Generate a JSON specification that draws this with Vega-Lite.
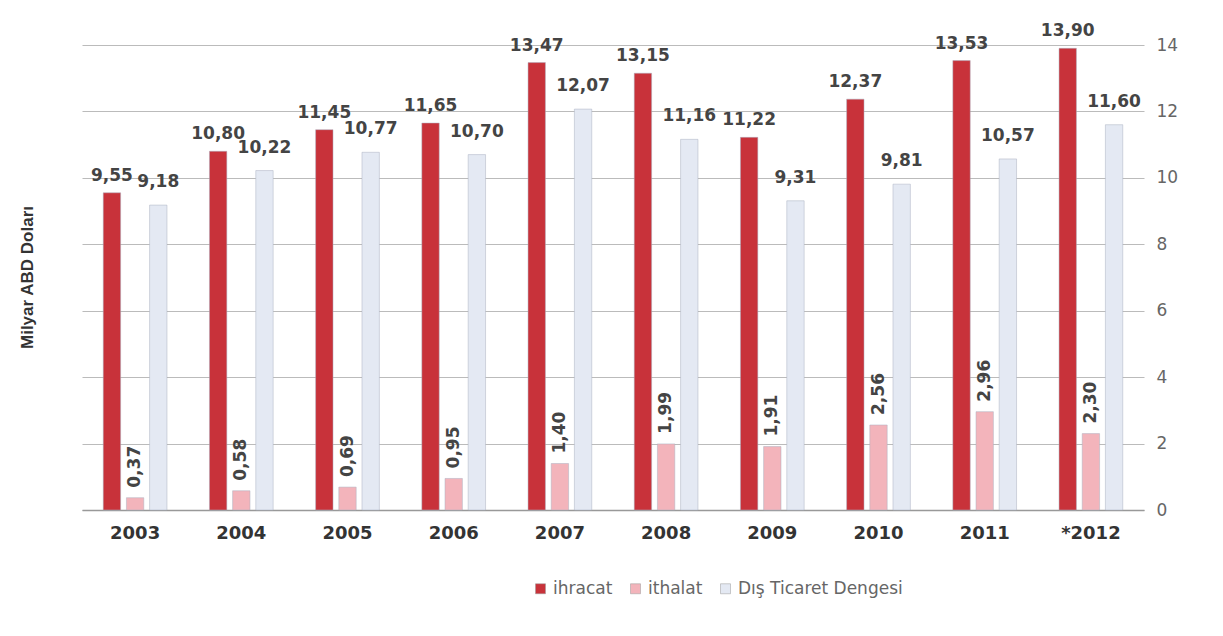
{
  "$schema": "https://vega.github.io/schema/vega-lite/v6.json",
  "width": 1062,
  "height": 465,
  "autosize": {"type": "none"},
  "padding": {"left": 82, "top": 45, "right": 79, "bottom": 126},
  "background": "white",
  "config": {
    "locale": {"number": {"decimal": ",", "thousands": ".", "grouping": [3], "currency": ["", ""]}},
    "view": {"stroke": null},
    "font": "DejaVu Sans"
  },
  "data": {
    "values": [
      {"year": "2003", "series": "ihracat", "value": 9.55},
      {"year": "2003", "series": "ithalat", "value": 0.37},
      {"year": "2003", "series": "Dış Ticaret Dengesi", "value": 9.18},
      {"year": "2004", "series": "ihracat", "value": 10.80},
      {"year": "2004", "series": "ithalat", "value": 0.58},
      {"year": "2004", "series": "Dış Ticaret Dengesi", "value": 10.22},
      {"year": "2005", "series": "ihracat", "value": 11.45},
      {"year": "2005", "series": "ithalat", "value": 0.69},
      {"year": "2005", "series": "Dış Ticaret Dengesi", "value": 10.77},
      {"year": "2006", "series": "ihracat", "value": 11.65},
      {"year": "2006", "series": "ithalat", "value": 0.95},
      {"year": "2006", "series": "Dış Ticaret Dengesi", "value": 10.70},
      {"year": "2007", "series": "ihracat", "value": 13.47},
      {"year": "2007", "series": "ithalat", "value": 1.40},
      {"year": "2007", "series": "Dış Ticaret Dengesi", "value": 12.07},
      {"year": "2008", "series": "ihracat", "value": 13.15},
      {"year": "2008", "series": "ithalat", "value": 1.99},
      {"year": "2008", "series": "Dış Ticaret Dengesi", "value": 11.16},
      {"year": "2009", "series": "ihracat", "value": 11.22},
      {"year": "2009", "series": "ithalat", "value": 1.91},
      {"year": "2009", "series": "Dış Ticaret Dengesi", "value": 9.31},
      {"year": "2010", "series": "ihracat", "value": 12.37},
      {"year": "2010", "series": "ithalat", "value": 2.56},
      {"year": "2010", "series": "Dış Ticaret Dengesi", "value": 9.81},
      {"year": "2011", "series": "ihracat", "value": 13.53},
      {"year": "2011", "series": "ithalat", "value": 2.96},
      {"year": "2011", "series": "Dış Ticaret Dengesi", "value": 10.57},
      {"year": "*2012", "series": "ihracat", "value": 13.90},
      {"year": "*2012", "series": "ithalat", "value": 2.30},
      {"year": "*2012", "series": "Dış Ticaret Dengesi", "value": 11.60}
    ]
  },
  "encoding": {
    "x": {
      "field": "year", "type": "nominal", "sort": null,
      "scale": {"paddingInner": 0.4, "paddingOuter": 0.2},
      "axis": {"title": null, "labelAngle": 0, "labelFontSize": 18, "labelColor": "#333", "labelFontWeight": "bold",
               "labelFont": "DejaVu Sans", "ticks": false, "labelPadding": 14, "domainColor": "#999", "domainWidth": 1.5}
    },
    "xOffset": {
      "field": "series", "type": "nominal",
      "sort": ["ihracat", "ithalat", "Dış Ticaret Dengesi"],
      "scale": {"paddingInner": 0.25}
    },
    "y": {
      "field": "value", "type": "quantitative",
      "scale": {"domain": [0, 14], "nice": false},
      "axis": {"orient": "right", "values": [0, 2, 4, 6, 8, 10, 12, 14], "format": "d", "title": "Milyar ABD Doları",
               "titleX": -1108, "titleY": 232, "titleAngle": -90, "titleFontSize": 17, "titleFont": "Liberation Sans", "titleColor": "#333",
               "titleFontWeight": "bold", "labelFontSize": 17, "labelColor": "#666", "labelPadding": 12,
               "ticks": false, "domain": false, "gridColor": "#bbb", "gridWidth": 1}
    }
  },
  "layer": [
    {
      "mark": {"type": "bar", "stroke": "#aab0c0", "strokeWidth": 0.5},
      "encoding": {
        "color": {
          "field": "series", "type": "nominal",
          "scale": {"domain": ["ihracat", "ithalat", "Dış Ticaret Dengesi"], "range": ["#c8323a", "#f3b4bb", "#e4e9f3"]},
          "legend": {"orient": "none", "legendX": 450, "legendY": 535, "direction": "horizontal", "title": null,
                     "symbolType": "square", "symbolSize": 100, "labelFontSize": 17, "labelFont": "DejaVu Sans", "labelLimit": 400,
                     "labelColor": "#666", "columnPadding": 14, "symbolStrokeColor": "#999", "symbolStrokeWidth": 0.5}
        }
      }
    },
    {
      "transform": [{"filter": "datum.series === 'ihracat'"}],
      "mark": {"type": "text", "baseline": "bottom", "dy": -8, "fontSize": 17, "fontWeight": "bold", "color": "#444"},
      "encoding": {"text": {"field": "value", "type": "quantitative", "format": ".2f"}}
    },
    {
      "transform": [{"filter": "datum.series === 'ithalat'"}],
      "mark": {"type": "text", "angle": 270, "align": "left", "baseline": "middle", "dx": 10, "fontSize": 17, "fontWeight": "bold", "color": "#444"},
      "encoding": {"text": {"field": "value", "type": "quantitative", "format": ".2f"}}
    },
    {
      "transform": [{"filter": "datum.series === 'Dış Ticaret Dengesi'"}],
      "mark": {"type": "text", "baseline": "bottom", "dy": -14, "fontSize": 17, "fontWeight": "bold", "color": "#444"},
      "encoding": {"text": {"field": "value", "type": "quantitative", "format": ".2f"}}
    }
  ]
}
